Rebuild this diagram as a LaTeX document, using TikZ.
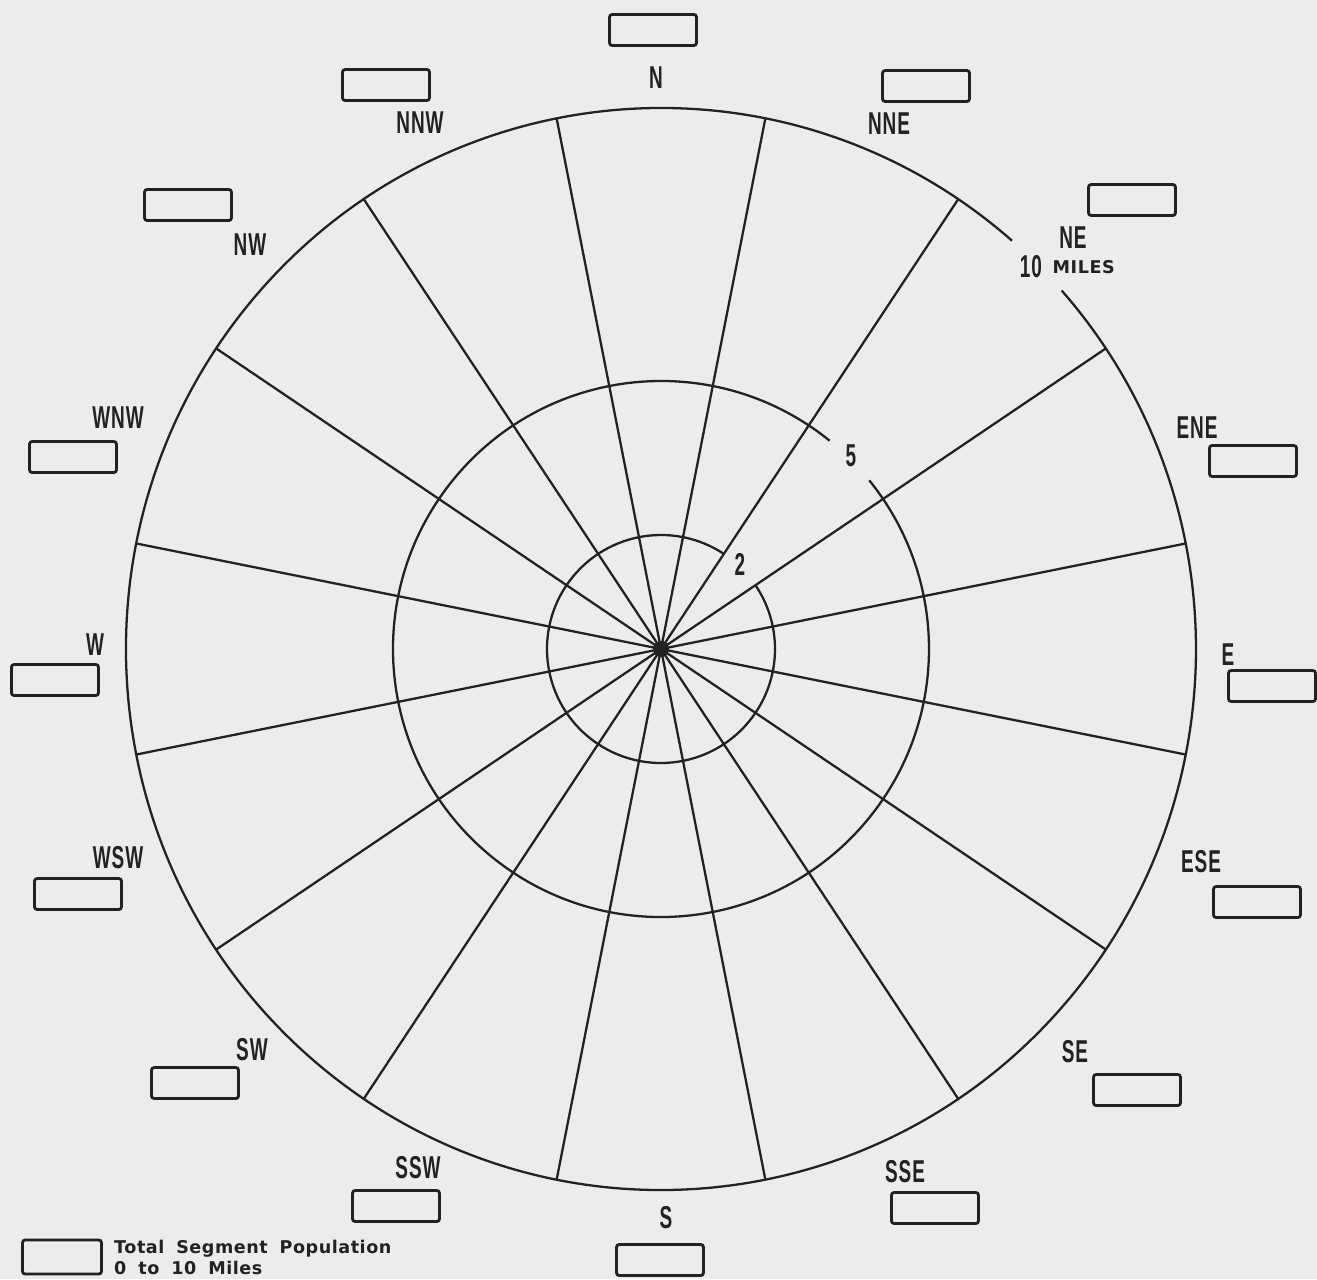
\documentclass[tikz,border=0pt]{standalone}
\usepackage{fontspec}
\usepackage{tikz}
\usetikzlibrary{positioning}
\newfontfamily\dirfont[FakeStretch=0.6,LetterSpace=3]{Liberation Sans}
\newfontfamily\legendfont[LetterSpace=3,WordSpace=1.8]{DejaVu Sans}
\definecolor{paperbg}{RGB}{236,236,234}
\definecolor{inkgray}{RGB}{34,34,34}

\begin{document}
\begin{tikzpicture}[x=0.02cm, y=0.02cm,
    popbox/.style={draw=inkgray, line width=1.6pt, rounded corners=1.5pt, minimum width=1.74cm, minimum height=0.62cm, inner sep=0pt},
    dirlabel/.style={text=inkgray, inner sep=0pt, font=\dirfont\bfseries\fontsize{18}{18}\selectfont},
    smalllabel/.style={text=inkgray, inner sep=0pt, font=\legendfont\bfseries\fontsize{10}{12}\selectfont},
    ring/.style={draw=inkgray, line width=1.3pt}]
    % page and background
    \fill[paperbg] (-658,-631) rectangle (659,648);
    \useasboundingbox (-658,-631) rectangle (659,648);
    \coordinate (ctr) at (3,-1);

    \begin{scope}[shift={(ctr)}]
    % spokes between the sixteen sectors
    \foreach \a in {11.25,33.75,...,348.75}
        \draw[ring] (0,0) -- (\a:535 and 541);
    \fill[inkgray] (0,0) circle (8);

    % distance rings, broken where the mileage is written
    \draw[ring] (49:535 and 541) arc[start angle=49, end angle=401.5, x radius=535, y radius=541];
    \draw[ring] (51:268) arc[start angle=51, end angle=399, radius=268];
    \draw[ring] (56.25:114) arc[start angle=56.25, end angle=394, radius=114];
    \end{scope}
    \node[dirlabel] (ring2) at (82,84) {2};
    \node[dirlabel] (ring5) at (193,192) {5};
    \node[dirlabel] (ring10) at (373,381) {10};
    \node[smalllabel, right=0.2cm of ring10] (miles) {MILES};

    % population boxes
    \node[popbox] (boxN) at (-5,618) {};
    \node[popbox] (boxNNE) at (268,562) {};
    \node[popbox] (boxNE) at (474,448) {};
    \node[popbox] (boxENE) at (595,187) {};
    \node[popbox] (boxE) at (614,-38) {};
    \node[popbox] (boxESE) at (599,-254) {};
    \node[popbox] (boxSE) at (479,-442) {};
    \node[popbox] (boxSSE) at (277,-560) {};
    \node[popbox] (boxS) at (2,-612) {};
    \node[popbox] (boxSSW) at (-262,-558) {};
    \node[popbox] (boxSW) at (-463,-435) {};
    \node[popbox] (boxWSW) at (-580,-246) {};
    \node[popbox] (boxW) at (-603,-32) {};
    \node[popbox] (boxWNW) at (-585,191) {};
    \node[popbox] (boxNW) at (-470,443) {};
    \node[popbox] (boxNNW) at (-272,563) {};

    % compass labels
    \node[dirlabel] (lblN) at (-2,570) {N};
    \node[dirlabel] (lblNNE) at (231,524) {NNE};
    \node[dirlabel] (lblNE) at (415,410) {NE};
    \node[dirlabel] (lblENE) at (539,220) {ENE};
    \node[dirlabel] (lblE) at (570,-7) {E};
    \node[dirlabel] (lblESE) at (543,-214) {ESE};
    \node[dirlabel] (lblSE) at (417,-404) {SE};
    \node[dirlabel] (lblSSE) at (247,-524) {SSE};
    \node[dirlabel] (lblS) at (8,-570) {S};
    \node[dirlabel] (lblSSW) at (-240,-520) {SSW};
    \node[dirlabel] (lblSW) at (-406,-402) {SW};
    \node[dirlabel] (lblWSW) at (-540,-210) {WSW};
    \node[dirlabel] (lblW) at (-563,3) {W};
    \node[dirlabel] (lblWNW) at (-540,230) {WNW};
    \node[dirlabel] (lblNW) at (-408,403) {NW};
    \node[dirlabel] (lblNNW) at (-238,525) {NNW};

    % legend
    \node[popbox, minimum width=1.58cm, minimum height=0.68cm] (legbox) at (-596,-609) {};
    \node[smalllabel, align=left, right=0.22cm of legbox] (legtext) {Total Segment Population\\0 to 10 Miles};
\end{tikzpicture}
\end{document}
